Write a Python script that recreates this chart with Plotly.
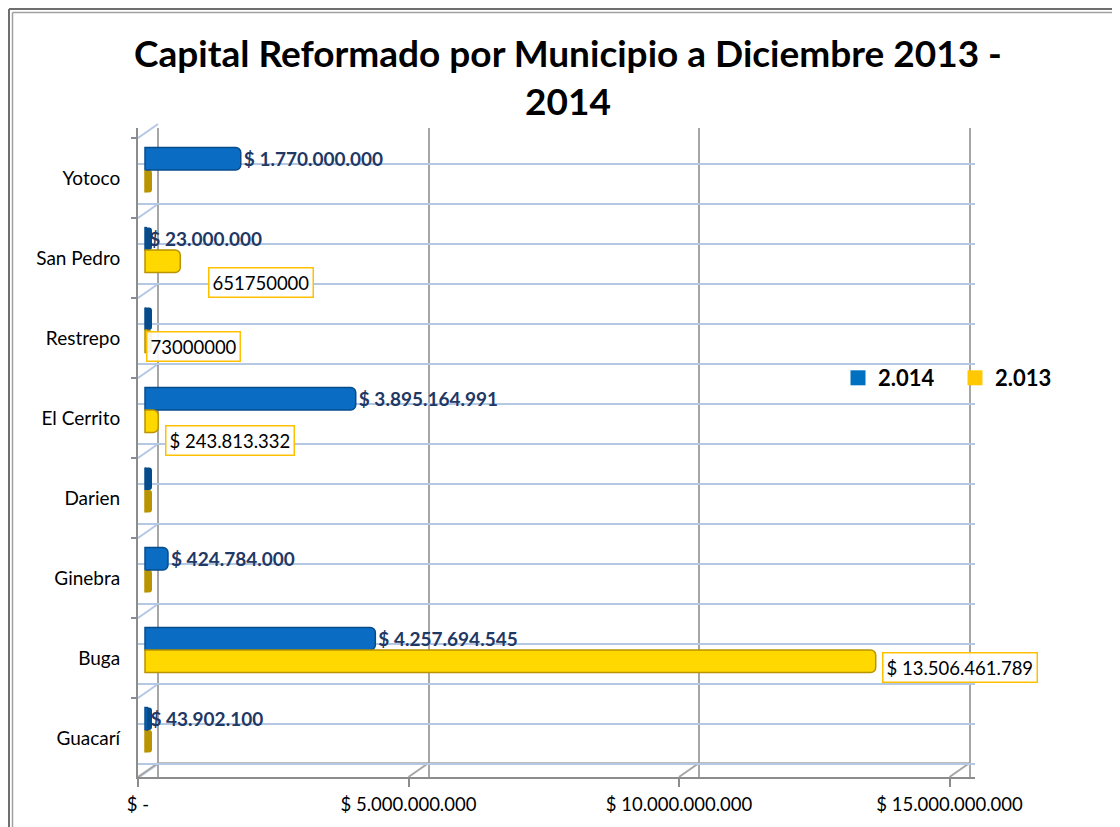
import plotly.graph_objects as go

# ---------------- data ----------------
municipios = ["Guacarí", "Buga", "Ginebra", "Darien", "El Cerrito", "Restrepo", "San Pedro", "Yotoco"]
valores_2014 = [43902100, 4257694545, 424784000, 0, 3895164991, 0, 23000000, 1770000000]
valores_2013 = [0, 13506461789, 0, 0, 243813332, 73000000, 651750000, 0]
etiquetas_2013 = ["", "$ 13.506.461.789", "", "", "$ 243.813.332", "73000000", "651750000", ""]
x_ticks = [0, 5e9, 10e9, 15e9]
x_tick_text = ["$ -", "$ 5.000.000.000", "$ 10.000.000.000", "$ 15.000.000.000"]
serie_2014 = "2.014"
serie_2013 = "2.013"
titulo = "Capital Reformado por Municipio a Diciembre 2013 -<br>2014"

# ---------------- layout geometry (figure pixels; page has an 8px body margin) ----------------
W_FIG, H_FIG = 1120, 827
OFF = 8
L, R, T, B = 138 - OFF, 975 - OFF, 128 - OFF, 777 - OFF
PW, PH = R - L, B - T
PX_PER_B = 54.1              # pixels per 1e9
UPX = 1e9 / PX_PER_B         # value units per pixel
Y_PX = 80.0                  # pixels per category
FRONT0 = 738 - OFF           # pixel of first category centre
DEPTH_Y = 14                 # 3D depth shift (px, upwards)
BACK_SHIFT = DEPTH_Y / Y_PX
BAR_ZERO = 145 - OFF
GRID_ZERO = 158 - OFF

def fmt(v):
    return "$ " + f"{v:,.0f}".replace(",", ".")

pos = list(range(len(municipios)))
txt_2014 = [fmt(v) if v > 0 else "" for v in valores_2014]

FONT = "Lato"
BLUE = "#0A6CC2"
BLUE_DARK = "#064C8C"
YEL = "#FFD800"
YEL_DARK = "#B89400"
CAP = 7 * UPX
AXIS_GRAY = "#8C8C8C"
GRID_GRAY = "#A6A6A6"
GRID_BLUE = "#B4C8E4"

fig = go.Figure()

# legend entries (square symbols) on the back-wall axes
fig.add_trace(go.Scatter(x=[None], y=[None], mode="markers", name=serie_2014, xaxis="x", yaxis="y",
                         marker=dict(symbol="square", size=15, color="#0070C0")))
fig.add_trace(go.Scatter(x=[None], y=[None], mode="markers", name=serie_2013, xaxis="x", yaxis="y",
                         marker=dict(symbol="square", size=15, color="#FFC800")))
# anchor for front axes
fig.add_trace(go.Scatter(x=[None], y=[None], mode="markers", xaxis="x3", yaxis="y2",
                         showlegend=False, hoverinfo="skip"))

# zero-length cylinder caps
fig.add_trace(go.Bar(y=pos, x=[CAP] * len(pos), orientation="h", xaxis="x2", yaxis="y2",
                     offset=0.1, width=0.28, marker=dict(color=BLUE_DARK, line=dict(width=0), cornerradius=3),
                     showlegend=False, hoverinfo="skip"))
fig.add_trace(go.Bar(y=pos, x=[CAP] * len(pos), orientation="h", xaxis="x2", yaxis="y2",
                     offset=-0.18, width=0.28, marker=dict(color=YEL_DARK, line=dict(width=0), cornerradius=3),
                     showlegend=False, hoverinfo="skip"))

fig.add_trace(go.Bar(
    y=pos, x=valores_2014, name=serie_2014, orientation="h", xaxis="x2", yaxis="y2",
    offset=0.1, width=0.28, showlegend=False,
    marker=dict(color=BLUE, line=dict(color=BLUE_DARK, width=1.5), cornerradius=5),
    text=txt_2014, textposition="outside", constraintext="none", cliponaxis=False,
    textfont=dict(family=FONT, size=19, color="#1F3864", weight="bold"),
))
fig.add_trace(go.Bar(
    y=pos, x=valores_2013, name=serie_2013, orientation="h", xaxis="x2", yaxis="y2",
    offset=-0.18, width=0.28, showlegend=False,
    marker=dict(color=YEL, line=dict(color=YEL_DARK, width=1.5), cornerradius=5),
    cliponaxis=False,
))

# boxed labels for 2013 (manual placement offsets in px, as in the original)
nudges = {1: (6, 9), 4: (7, 22), 5: (-3, 8), 6: (28, 24)}
for i, (v, t) in enumerate(zip(valores_2013, etiquetas_2013)):
    if not t:
        continue
    dx, dy = nudges.get(i, (6, 10))
    fig.add_annotation(x=v, y=i, xref="x2", yref="y2", text=t, showarrow=False,
                       xanchor="left", yanchor="middle", xshift=dx, yshift=-dy,
                       font=dict(family=FONT, size=18.5, color="#000000"),
                       bordercolor="#FFC000", borderwidth=1.5, borderpad=3, bgcolor="rgba(255,255,255,0.9)")

yr = [-(B - FRONT0) / Y_PX, (FRONT0 - T) / Y_PX]

fig.update_layout(
    width=W_FIG, height=H_FIG,
    margin=dict(l=L, r=W_FIG - R, t=T, b=H_FIG - B),
    paper_bgcolor="white", plot_bgcolor="white",
    barmode="overlay",
    font=dict(family=FONT, size=14, color="#000000"),
    title=dict(text=titulo, x=0.5, xanchor="center", xref="container",
               y=1 - 59 / H_FIG, yanchor="top",
               font=dict(family=FONT, size=37, color="#000000", weight="bold")),
    legend=dict(orientation="h", x=(830 - L) / PW, xanchor="left", y=(B - 370) / PH, yanchor="middle",
                font=dict(family=FONT, size=22, color="#000000", weight="bold"),
                bgcolor="rgba(0,0,0,0)", entrywidth=72, itemclick=False, itemwidth=30),
    # back-wall grid (vertical)
    xaxis=dict(range=[-(GRID_ZERO - L) * UPX, (R - GRID_ZERO) * UPX], tickmode="array", tickvals=x_ticks,
               showgrid=True, gridcolor=GRID_GRAY, gridwidth=2, showticklabels=False,
               ticks="", showline=False, zeroline=False, fixedrange=True),
    # back-wall grid (horizontal)
    yaxis=dict(range=[yr[0] - BACK_SHIFT, yr[1] - BACK_SHIFT], tick0=0, dtick=0.5,
               showgrid=True, gridcolor=GRID_BLUE, gridwidth=2, showticklabels=False,
               ticks="", showline=False, zeroline=False, fixedrange=True),
    # bar axis
    xaxis2=dict(range=[-(BAR_ZERO - L) * UPX, (R - BAR_ZERO) * UPX], overlaying="x", anchor="y2",
                visible=False, fixedrange=True),
    yaxis2=dict(range=yr, overlaying="y", anchor="x3", side="left", tickmode="array",
                tickvals=pos, ticktext=municipios, ticks="", showgrid=False, zeroline=False,
                showline=True, linecolor=AXIS_GRAY, linewidth=2, ticklabelstandoff=12,
                tickfont=dict(family=FONT, size=19, color="#000000"),
                minor=dict(tick0=0.5, dtick=1, ticks="outside", ticklen=5, tickcolor=AXIS_GRAY,
                           tickwidth=2, showgrid=False),
                fixedrange=True),
    # front value axis
    xaxis3=dict(range=[0, PW * UPX], overlaying="x", anchor="y2", side="bottom",
                tickmode="array", tickvals=x_ticks, ticktext=x_tick_text,
                ticks="outside", ticklen=8, tickcolor=AXIS_GRAY, tickwidth=2,
                showline=True, linecolor=AXIS_GRAY, linewidth=2, showgrid=False, zeroline=False,
                tickfont=dict(family=FONT, size=18.5, color="#000000"), ticklabelstandoff=2,
                fixedrange=True),
)

# ---------------- decorative 3D walls and frame (figure pixels -> paper) ----------------
def pxx(x):
    return (x - L) / PW

def pyy(y):
    return (B - y) / PH

back_right = GRID_ZERO + max(x_ticks) / UPX

# hide the back grid in the side wall, floor strip and right of the back wall
fig.add_shape(type="rect", xref="paper", yref="paper", x0=pxx(L + 1), x1=pxx(GRID_ZERO - 1),
              y0=pyy(B - 1), y1=pyy(T), fillcolor="white", line=dict(width=0), layer="between")
fig.add_shape(type="rect", xref="paper", yref="paper", x0=pxx(L + 1), x1=pxx(R),
              y0=pyy(B - 1), y1=pyy(B - DEPTH_Y + 1), fillcolor="white", line=dict(width=0), layer="between")
fig.add_shape(type="rect", xref="paper", yref="paper", x0=pxx(back_right + 1.5), x1=pxx(R),
              y0=pyy(B), y1=pyy(T), fillcolor="white", line=dict(width=0), layer="between")
# side-wall diagonals at category boundaries
for k in range(len(municipios) + 1):
    fy = FRONT0 + Y_PX / 2 - k * Y_PX
    fig.add_shape(type="line", xref="paper", yref="paper", x0=pxx(L), x1=pxx(GRID_ZERO),
                  y0=pyy(fy), y1=pyy(fy - DEPTH_Y), line=dict(color=GRID_BLUE, width=2), layer="between")
# floor diagonals at value ticks
for v in x_ticks:
    fx = L + v / UPX
    bx = GRID_ZERO + v / UPX
    fig.add_shape(type="line", xref="paper", yref="paper", x0=pxx(fx), x1=pxx(bx),
                  y0=pyy(B), y1=pyy(B - DEPTH_Y), line=dict(color=GRID_GRAY, width=2), layer="between")
# back floor edge
fig.add_shape(type="line", xref="paper", yref="paper", x0=pxx(GRID_ZERO), x1=pxx(back_right),
              y0=pyy(B - DEPTH_Y), y1=pyy(B - DEPTH_Y), line=dict(color=GRID_GRAY, width=1.5), layer="between")

for c, w, p in [("#6E6E6E", 2, 1), ("#A0A0A0", 1.5, 4.5)]:
    fig.add_shape(type="line", xref="paper", yref="paper", x0=pxx(p), x1=pxx(p),
                  y0=pyy(p), y1=pyy(H_FIG + 5), line=dict(color=c, width=w))
    fig.add_shape(type="line", xref="paper", yref="paper", x0=pxx(p), x1=pxx(W_FIG + 5),
                  y0=pyy(p), y1=pyy(p), line=dict(color=c, width=w))

fig.write_html("out.html")
